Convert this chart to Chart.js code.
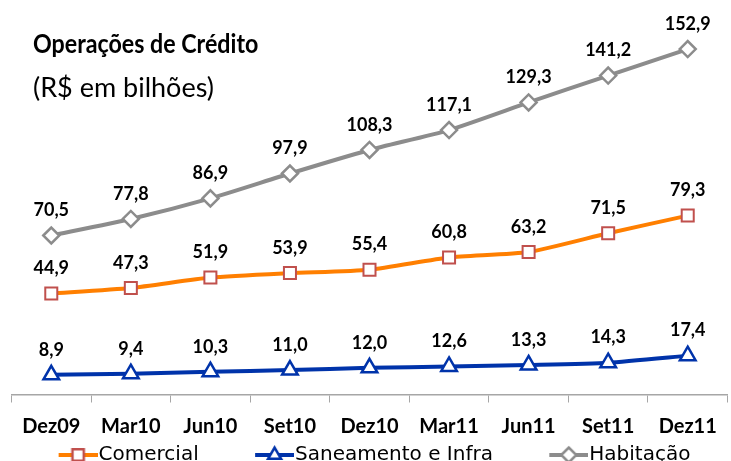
<!DOCTYPE html>
<html>
<head>
<meta charset="utf-8">
<script src="https://cdn.jsdelivr.net/npm/chart.js@4.4.0/dist/chart.umd.min.js"></script>
<style>
  html, body { margin: 0; padding: 0; background: #fff; overflow: hidden; }
  canvas { display: block; }
</style>
</head>
<body>
<canvas id="chart" width="739" height="475"></canvas>
<script>
const periods = ['Dez09', 'Mar10', 'Jun10', 'Set10', 'Dez10', 'Mar11', 'Jun11', 'Set11', 'Dez11'];
const comercial = [44.9, 47.3, 51.9, 53.9, 55.4, 60.8, 63.2, 71.5, 79.3];
const saneamento = [8.9, 9.4, 10.3, 11.0, 12.0, 12.6, 13.3, 14.3, 17.4];
const habitacao = [70.5, 77.8, 86.9, 97.9, 108.3, 117.1, 129.3, 141.2, 152.9];

const titleText = 'Operações de Crédito';
const subtitleText = '(R$ em bilhões)';

// line + marker picture for the legend (sample sits on the right part of the image)
function legendSample(lineColor, markerColor, style, radius) {
  const c = document.createElement('canvas');
  c.width = 48;
  c.height = 20;
  const g = c.getContext('2d');
  g.strokeStyle = lineColor;
  g.lineWidth = 4;
  g.beginPath();
  g.moveTo(9, 10);
  g.lineTo(48, 10);
  g.stroke();
  g.fillStyle = '#fff';
  g.strokeStyle = markerColor;
  g.lineWidth = 2.5;
  Chart.helpers.drawPoint(g, { pointStyle: style, radius: radius, rotation: 0, borderWidth: 2.5 }, 28.5, 10);
  return c;
}

// value labels above each point
const valueLabels = {
  id: 'valueLabels',
  afterDatasetsDraw(chart) {
    const ctx = chart.ctx;
    ctx.save();
    ctx.font = 'bold 18px Lato';
    ctx.fillStyle = '#000';
    ctx.textAlign = 'center';
    ctx.textBaseline = 'middle';
    chart.data.datasets.forEach((ds, i) => {
      chart.getDatasetMeta(i).data.forEach((pt, j) => {
        ctx.fillText(ds.data[j].toFixed(1).replace('.', ','), pt.x, pt.y - 25);
      });
    });
    ctx.restore();
  }
};

const heading = {
  id: 'heading',
  afterDraw(chart) {
    const ctx = chart.ctx;
    ctx.save();
    ctx.fillStyle = '#000';
    ctx.textAlign = 'left';
    ctx.textBaseline = 'alphabetic';
    ctx.translate(33, 0);
    ctx.scale(0.86, 1);
    ctx.font = 'bold 27px Lato';
    ctx.fillText(titleText, 0, 53);
    ctx.restore();
    ctx.save();
    ctx.fillStyle = '#000';
    ctx.font = '27px Lato';
    ctx.fillText(subtitleText, 33, 88);
    ctx.restore();
  }
};

const samples = [
  legendSample('#FF7F00', '#C0504D', 'rect', 8),
  legendSample('#0033AA', '#0033AA', 'triangle', 7.5),
  legendSample('#8C8C8C', '#8C8C8C', 'rectRot', 7.5)
];
const gap = '\u2003\u2003\u2002 ';

new Chart(document.getElementById('chart'), {
  type: 'line',
  data: {
    labels: periods,
    datasets: [
      {
        label: 'Comercial',
        data: comercial,
        borderColor: '#FF7F00',
        borderWidth: 4,
        pointStyle: 'rect',
        pointRadius: 8.5,
        pointBorderColor: '#C0504D',
        pointBackgroundColor: '#fff',
        pointBorderWidth: 2,
        tension: 0.2
      },
      {
        label: 'Saneamento e Infra',
        data: saneamento,
        borderColor: '#0033AA',
        borderWidth: 4,
        pointStyle: 'triangle',
        pointRadius: 9,
        pointBorderColor: '#0033AA',
        pointBackgroundColor: '#fff',
        pointBorderWidth: 2.5,
        tension: 0.2
      },
      {
        label: 'Habitação',
        data: habitacao,
        borderColor: '#8C8C8C',
        borderWidth: 4,
        pointStyle: 'rectRot',
        pointRadius: 8,
        pointBorderColor: '#8C8C8C',
        pointBackgroundColor: '#fff',
        pointBorderWidth: 2.5,
        tension: 0.2
      }
    ]
  },
  options: {
    responsive: false,
    animation: false,
    layout: {
      padding: { top: 33, left: 10, right: 0, bottom: 0 }
    },
    scales: {
      x: {
        offset: true,
        grid: {
          offset: true,
          drawOnChartArea: false,
          drawTicks: true,
          tickLength: 14,
          tickBorderDash: [7, 40],
          color: '#A6A6A6',
          lineWidth: 1
        },
        border: { color: '#A6A6A6', width: 1.5 },
        ticks: {
          color: '#000',
          padding: 17,
          font: { family: 'Lato', weight: 'bold', size: 20, lineHeight: 0.1 }
        }
      },
      y: {
        display: false,
        min: 0,
        max: 160
      }
    },
    plugins: {
      tooltip: { enabled: false },
      legend: {
        position: 'bottom',
        labels: {
          usePointStyle: true,
          pointStyleWidth: 30,
          padding: 0,
          color: '#333',
          font: { family: 'DejaVu Sans', size: 20 },
          generateLabels(chart) {
            const n = chart.data.datasets.length;
            return chart.data.datasets.map((ds, i) => ({
              text: ds.label + (i < n - 1 ? gap : ''),
              pointStyle: samples[i],
              fillStyle: '#fff',
              strokeStyle: ds.borderColor,
              lineWidth: 0,
              datasetIndex: i,
              hidden: false
            }));
          }
        }
      }
    }
  },
  plugins: [valueLabels, heading]
});
</script>
</body>
</html>
